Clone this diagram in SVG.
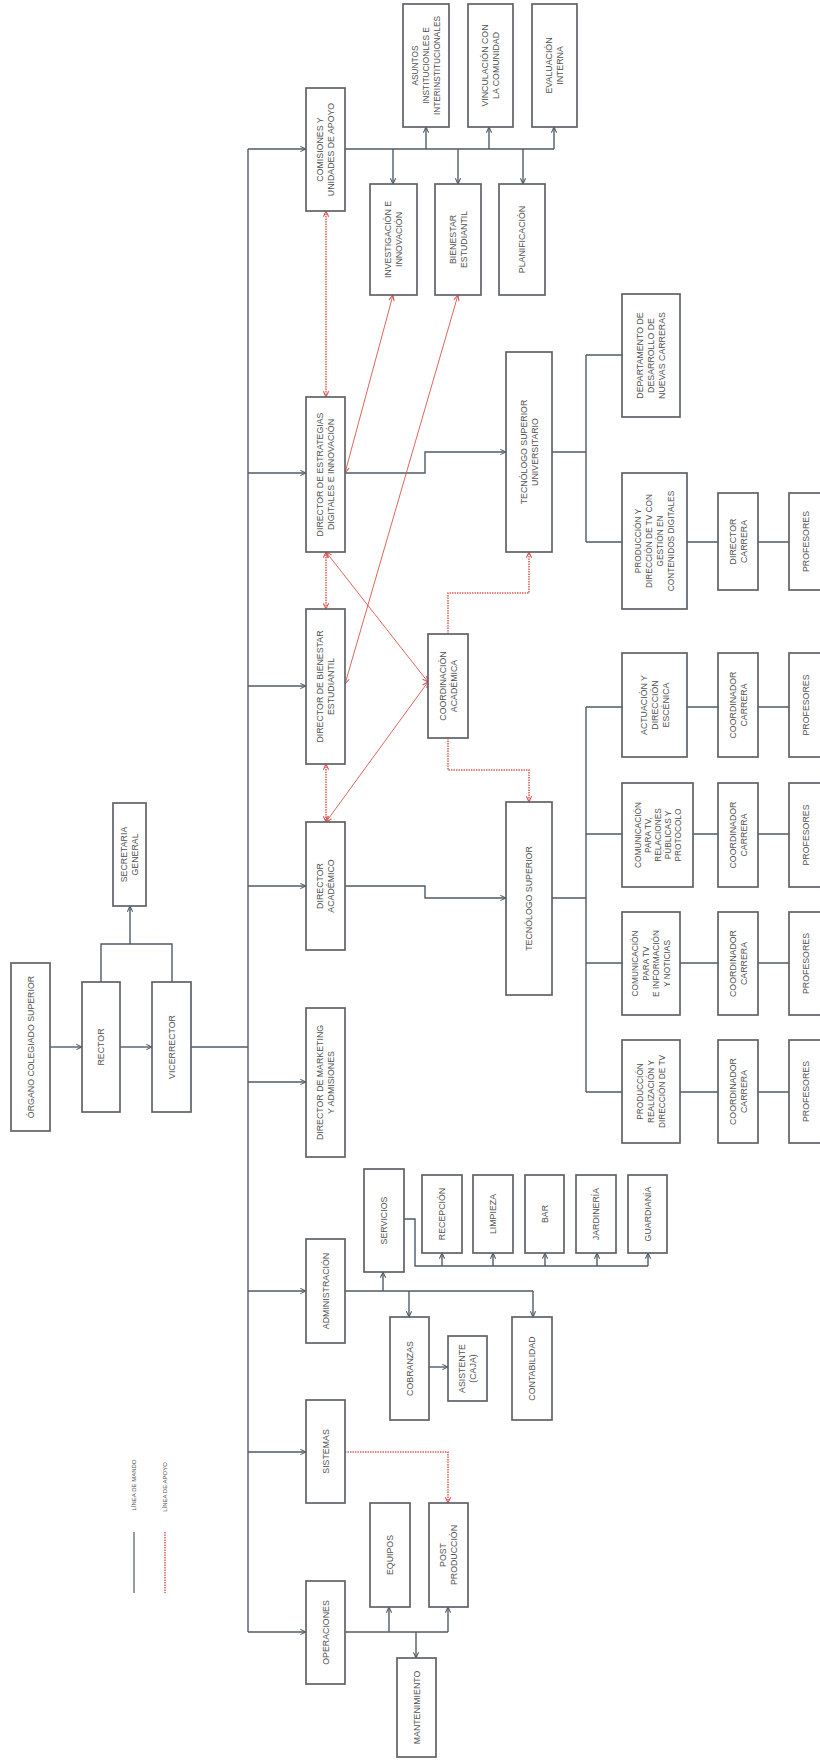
<svg xmlns="http://www.w3.org/2000/svg" width="820" height="1760" viewBox="0 0 820 1760">
<style>
.box{fill:#fff;stroke:#5f6368;stroke-width:1.7}
.t{font-family:"Liberation Sans",Arial,sans-serif;font-size:8.8px;fill:#505050;text-anchor:middle;dominant-baseline:central}
.s{font-size:8.3px}
.lg{font-size:6px}
.ln{fill:none;stroke:#4f5b66;stroke-width:1.4}
.red{fill:none;stroke:#d9534f;stroke-width:1.4;stroke-dasharray:1.4 1.1}
.rthin{fill:none;stroke:#d9534f;stroke-width:0.9}
</style>
<defs>
<marker id="a" viewBox="0 0 8 8" refX="7.5" refY="4" markerWidth="7" markerHeight="7" markerUnits="userSpaceOnUse" orient="auto-start-reverse"><path d="M1,1 L7.5,4 L1,7" fill="none" stroke="#4f5b66" stroke-width="1.2"/></marker>
<marker id="r" viewBox="0 0 8 8" refX="7.5" refY="4" markerWidth="7" markerHeight="7" markerUnits="userSpaceOnUse" orient="auto-start-reverse"><path d="M1,1 L7.5,4 L1,7" fill="none" stroke="#d9534f" stroke-width="1.2"/></marker>
</defs>
<rect width="820" height="1760" fill="#fff"/>

<g id="connectors">
<path class="ln" d="M50,1047 H82" marker-end="url(#a)"/>
<path class="ln" d="M120,1047 H152" marker-end="url(#a)"/>
<path class="ln" d="M191,1047 H248"/>
<path class="ln" d="M101,982 V944 H172 V982"/>
<path class="ln" d="M130,944 V906" marker-end="url(#a)"/>
<path class="ln" d="M248,149 V1632"/>
<path class="ln" d="M248,149 H306" marker-end="url(#a)"/>
<path class="ln" d="M248,473 H306" marker-end="url(#a)"/>
<path class="ln" d="M248,686 H306" marker-end="url(#a)"/>
<path class="ln" d="M248,886 H306" marker-end="url(#a)"/>
<path class="ln" d="M248,1082 H306" marker-end="url(#a)"/>
<path class="ln" d="M248,1291 H306" marker-end="url(#a)"/>
<path class="ln" d="M248,1452 H306" marker-end="url(#a)"/>
<path class="ln" d="M248,1632 H306" marker-end="url(#a)"/>
<path class="ln" d="M345,149 H554"/>
<path class="ln" d="M393,149 V184" marker-end="url(#a)"/>
<path class="ln" d="M458,149 V184" marker-end="url(#a)"/>
<path class="ln" d="M523,149 V184" marker-end="url(#a)"/>
<path class="ln" d="M426,149 V127" marker-end="url(#a)"/>
<path class="ln" d="M489,149 V127" marker-end="url(#a)"/>
<path class="ln" d="M554,149 V127" marker-end="url(#a)"/>
<path class="ln" d="M345,473 H425 V452 H506" marker-end="url(#a)"/>
<path class="ln" d="M552,452 H586 M586,355 V542 M586,355 H622 M586,542 H622"/>
<path class="ln" d="M687,542 H718 M758,542 H789"/>
<path class="ln" d="M345,886 H425 V898 H506" marker-end="url(#a)"/>
<path class="ln" d="M552,898 H586 M586,707 V1092"/>
<path class="ln" d="M586,707 H622 M687,707 H718 M758,707 H789"/>
<path class="ln" d="M586,834 H622 M693,834 H718 M758,834 H789"/>
<path class="ln" d="M586,963 H622 M680,963 H718 M758,963 H789"/>
<path class="ln" d="M586,1092 H622 M680,1092 H718 M758,1092 H789"/>
<path class="ln" d="M345,1291 H533"/>
<path class="ln" d="M383,1291 V1272" marker-end="url(#a)"/>
<path class="ln" d="M409,1291 V1317" marker-end="url(#a)"/>
<path class="ln" d="M533,1291 V1317" marker-end="url(#a)"/>
<path class="ln" d="M429,1367 H448" marker-end="url(#a)"/>
<path class="ln" d="M404,1219 H415 V1266 H648"/>
<path class="ln" d="M442,1266 V1253" marker-end="url(#a)"/>
<path class="ln" d="M493,1266 V1253" marker-end="url(#a)"/>
<path class="ln" d="M545,1266 V1253" marker-end="url(#a)"/>
<path class="ln" d="M597,1266 V1253" marker-end="url(#a)"/>
<path class="ln" d="M648,1266 V1253" marker-end="url(#a)"/>
<path class="ln" d="M345,1632 H448"/>
<path class="ln" d="M389,1632 V1607" marker-end="url(#a)"/>
<path class="ln" d="M416,1632 V1658" marker-end="url(#a)"/>
<path class="ln" d="M448,1632 V1607" marker-end="url(#a)"/>
<path class="red" d="M326,211 V397" marker-start="url(#r)" marker-end="url(#r)"/>
<path class="red" d="M326,552 V609" marker-start="url(#r)" marker-end="url(#r)"/>
<path class="red" d="M326,764 V822" marker-start="url(#r)" marker-end="url(#r)"/>
<path class="rthin" d="M345,473 L393,295" marker-start="url(#r)" marker-end="url(#r)"/>
<path class="rthin" d="M458,295 L345,684" marker-start="url(#r)" marker-end="url(#r)"/>
<path class="rthin" d="M326,552 L428,682" marker-start="url(#r)" marker-end="url(#r)"/>
<path class="rthin" d="M326,822 L428,682" marker-start="url(#r)" marker-end="url(#r)"/>
<path class="red" d="M448,634 V593 H529 V552" marker-end="url(#r)"/>
<path class="red" d="M448,738 V770 H529 V802" marker-end="url(#r)"/>
<path class="red" d="M345,1452 H448 V1503" marker-end="url(#r)"/>
</g>

<g id="n-organo"><rect class="box" x="11" y="963" width="39" height="168"/><text class="t" transform="translate(30.5 1047) rotate(-90)"><tspan x="0" y="0">ÓRGANO COLEGIADO SUPERIOR</tspan></text></g>
<g id="n-rector"><rect class="box" x="82" y="982" width="38" height="130"/><text class="t" transform="translate(101 1047) rotate(-90)"><tspan x="0" y="0">RECTOR</tspan></text></g>
<g id="n-vicerrector"><rect class="box" x="152" y="982" width="39" height="130"/><text class="t" transform="translate(171.5 1047) rotate(-90)"><tspan x="0" y="0">VICERRECTOR</tspan></text></g>
<g id="n-secretaria"><rect class="box" x="113" y="803" width="33" height="103"/><text class="t" transform="translate(129.5 854.5) rotate(-90)"><tspan x="0" y="-5.5">SECRETARIA</tspan><tspan x="0" y="5.5">GENERAL</tspan></text></g>

<g id="n-comisiones"><rect class="box" x="306" y="88" width="39" height="123"/><text class="t" transform="translate(325.5 149.5) rotate(-90)"><tspan x="0" y="-5.5">COMISIONES Y</tspan><tspan x="0" y="5.5">UNIDADES DE APOYO</tspan></text></g>
<g id="n-dir-estrategias"><rect class="box" x="306" y="397" width="39" height="155"/><text class="t" transform="translate(325.5 474.5) rotate(-90)"><tspan x="0" y="-5.5">DIRECTOR DE ESTRATEGIAS</tspan><tspan x="0" y="5.5">DIGITALES E INNOVACIÓN</tspan></text></g>
<g id="n-dir-bienestar"><rect class="box" x="306" y="609" width="39" height="155"/><text class="t" transform="translate(325.5 686.5) rotate(-90)"><tspan x="0" y="-5.5">DIRECTOR DE BIENESTAR</tspan><tspan x="0" y="5.5">ESTUDIANTIL</tspan></text></g>
<g id="n-dir-academico"><rect class="box" x="306" y="822" width="39" height="128"/><text class="t" transform="translate(325.5 886) rotate(-90)"><tspan x="0" y="-5.5">DIRECTOR</tspan><tspan x="0" y="5.5">ACADÉMICO</tspan></text></g>
<g id="n-dir-marketing"><rect class="box" x="306" y="1008" width="39" height="149"/><text class="t" transform="translate(325.5 1082.5) rotate(-90)"><tspan x="0" y="-5.5">DIRECTOR DE MARKETING</tspan><tspan x="0" y="5.5">Y ADMISIONES</tspan></text></g>
<g id="n-administracion"><rect class="box" x="306" y="1239" width="39" height="104"/><text class="t" transform="translate(325.5 1291) rotate(-90)"><tspan x="0" y="0">ADMINISTRACIÓN</tspan></text></g>
<g id="n-sistemas"><rect class="box" x="306" y="1400" width="39" height="103"/><text class="t" transform="translate(325.5 1451.5) rotate(-90)"><tspan x="0" y="0">SISTEMAS</tspan></text></g>
<g id="n-operaciones"><rect class="box" x="306" y="1581" width="39" height="103"/><text class="t" transform="translate(325.5 1632.5) rotate(-90)"><tspan x="0" y="0">OPERACIONES</tspan></text></g>

<g id="n-investigacion"><rect class="box" x="370" y="184" width="47" height="111"/><text class="t" transform="translate(393.5 239.5) rotate(-90)"><tspan x="0" y="-5.5">INVESTIGACIÓN E</tspan><tspan x="0" y="5.5">INNOVACIÓN</tspan></text></g>
<g id="n-bienestar"><rect class="box" x="435" y="184" width="46" height="111"/><text class="t" transform="translate(458 239.5) rotate(-90)"><tspan x="0" y="-5.5">BIENESTAR</tspan><tspan x="0" y="5.5">ESTUDIANTIL</tspan></text></g>
<g id="n-planificacion"><rect class="box" x="499" y="184" width="46" height="111"/><text class="t" transform="translate(522 239.5) rotate(-90)"><tspan x="0" y="0">PLANIFICACIÓN</tspan></text></g>
<g id="n-asuntos"><rect class="box" x="403" y="4" width="46" height="123"/><text class="t s" transform="translate(426 65.5) rotate(-90)"><tspan x="0" y="-11">ASUNTOS</tspan><tspan x="0" y="0">INSTITUCIONLES E</tspan><tspan x="0" y="11">INTERINSTITUCIONALES</tspan></text></g>
<g id="n-vinculacion"><rect class="box" x="468" y="4" width="45" height="123"/><text class="t" transform="translate(490.5 65.5) rotate(-90)"><tspan x="0" y="-5.5">VINCULACIÓN CON</tspan><tspan x="0" y="5.5">LA COMUNIDAD</tspan></text></g>
<g id="n-evaluacion"><rect class="box" x="532" y="4" width="45" height="123"/><text class="t" transform="translate(554.5 65.5) rotate(-90)"><tspan x="0" y="-5.5">EVALUACIÓN</tspan><tspan x="0" y="5.5">INTERNA</tspan></text></g>

<g id="n-tsu"><rect class="box" x="506" y="352" width="46" height="200"/><text class="t" transform="translate(529 452) rotate(-90)"><tspan x="0" y="-5.5">TECNÓLOGO SUPERIOR</tspan><tspan x="0" y="5.5">UNIVERSITARIO</tspan></text></g>
<g id="n-departamento"><rect class="box" x="622" y="294" width="58" height="123"/><text class="t" transform="translate(651 355.5) rotate(-90)"><tspan x="0" y="-11">DEPARTAMENTO DE</tspan><tspan x="0" y="0">DESARROLLO DE</tspan><tspan x="0" y="11">NUEVAS CARRERAS</tspan></text></g>
<g id="n-prod-dir-tv"><rect class="box" x="622" y="473" width="65" height="136"/><text class="t s" transform="translate(654.5 541) rotate(-90)"><tspan x="0" y="-16.5">PRODUCCIÓN Y</tspan><tspan x="0" y="-5.5">DIRECCIÓN DE TV CON</tspan><tspan x="0" y="5.5">GESTIÓN EN</tspan><tspan x="0" y="16.5">CONTENIDOS DIGITALES</tspan></text></g>
<g id="n-director-carrera"><rect class="box" x="718" y="493" width="40" height="97"/><text class="t" transform="translate(738 541.5) rotate(-90)"><tspan x="0" y="-5.5">DIRECTOR</tspan><tspan x="0" y="5.5">CARRERA</tspan></text></g>
<g id="n-profesores-5"><rect class="box" x="789" y="493" width="45" height="97"/><text class="t" transform="translate(806 541.5) rotate(-90)"><tspan x="0" y="0">PROFESORES</tspan></text></g>

<g id="n-coord-academica"><rect class="box" x="428" y="634" width="40" height="104"/><text class="t" transform="translate(448 686) rotate(-90)"><tspan x="0" y="-5.5">COORDINACIÓN</tspan><tspan x="0" y="5.5">ACADÉMICA</tspan></text></g>
<g id="n-ts"><rect class="box" x="506" y="802" width="46" height="193"/><text class="t" transform="translate(529 898.5) rotate(-90)"><tspan x="0" y="0">TECNÓLOGO SUPERIOR</tspan></text></g>

<g id="n-actuacion"><rect class="box" x="622" y="653" width="65" height="104"/><text class="t" transform="translate(654.5 705) rotate(-90)"><tspan x="0" y="-11">ACTUACIÓN Y</tspan><tspan x="0" y="0">DIRECCIÓN</tspan><tspan x="0" y="11">ESCÉNICA</tspan></text></g>
<g id="n-coord-1"><rect class="box" x="718" y="653" width="40" height="104"/><text class="t" transform="translate(738 705) rotate(-90)"><tspan x="0" y="-5.5">COORDINADOR</tspan><tspan x="0" y="5.5">CARRERA</tspan></text></g>
<g id="n-profesores-1"><rect class="box" x="789" y="653" width="45" height="104"/><text class="t" transform="translate(806 705) rotate(-90)"><tspan x="0" y="0">PROFESORES</tspan></text></g>

<g id="n-com-relaciones"><rect class="box" x="622" y="783" width="71" height="104"/><text class="t s" transform="translate(657.5 835) rotate(-90)"><tspan x="0" y="-20">COMUNICACIÓN</tspan><tspan x="0" y="-10">PARA TV,</tspan><tspan x="0" y="0">RELACIONES</tspan><tspan x="0" y="10">PÚBLICAS Y</tspan><tspan x="0" y="20">PROTOCOLO</tspan></text></g>
<g id="n-coord-2"><rect class="box" x="718" y="783" width="40" height="104"/><text class="t" transform="translate(738 835) rotate(-90)"><tspan x="0" y="-5.5">COORDINADOR</tspan><tspan x="0" y="5.5">CARRERA</tspan></text></g>
<g id="n-profesores-2"><rect class="box" x="789" y="783" width="45" height="104"/><text class="t" transform="translate(806 835) rotate(-90)"><tspan x="0" y="0">PROFESORES</tspan></text></g>

<g id="n-com-informacion"><rect class="box" x="622" y="912" width="58" height="103"/><text class="t s" transform="translate(651 963.5) rotate(-90)"><tspan x="0" y="-15.75">COMUNICACIÓN</tspan><tspan x="0" y="-5.25">PARA TV</tspan><tspan x="0" y="5.25">E INFORMACIÓN</tspan><tspan x="0" y="15.75">Y NOTICIAS</tspan></text></g>
<g id="n-coord-3"><rect class="box" x="718" y="912" width="40" height="103"/><text class="t" transform="translate(738 963.5) rotate(-90)"><tspan x="0" y="-5.5">COORDINADOR</tspan><tspan x="0" y="5.5">CARRERA</tspan></text></g>
<g id="n-profesores-3"><rect class="box" x="789" y="912" width="45" height="103"/><text class="t" transform="translate(806 963.5) rotate(-90)"><tspan x="0" y="0">PROFESORES</tspan></text></g>

<g id="n-prod-realizacion"><rect class="box" x="622" y="1040" width="58" height="103"/><text class="t s" transform="translate(651 1091.5) rotate(-90)"><tspan x="0" y="-11">PRODUCCIÓN</tspan><tspan x="0" y="0">REALIZACIÓN Y</tspan><tspan x="0" y="11">DIRECCIÓN DE TV</tspan></text></g>
<g id="n-coord-4"><rect class="box" x="718" y="1040" width="40" height="103"/><text class="t" transform="translate(738 1091.5) rotate(-90)"><tspan x="0" y="-5.5">COORDINADOR</tspan><tspan x="0" y="5.5">CARRERA</tspan></text></g>
<g id="n-profesores-4"><rect class="box" x="789" y="1040" width="45" height="103"/><text class="t" transform="translate(806 1091.5) rotate(-90)"><tspan x="0" y="0">PROFESORES</tspan></text></g>

<g id="n-servicios"><rect class="box" x="364" y="1169" width="40" height="103"/><text class="t" transform="translate(384 1220.5) rotate(-90)"><tspan x="0" y="0">SERVICIOS</tspan></text></g>
<g id="n-cobranzas"><rect class="box" x="390" y="1317" width="39" height="103"/><text class="t" transform="translate(409.5 1368.5) rotate(-90)"><tspan x="0" y="0">COBRANZAS</tspan></text></g>
<g id="n-asistente"><rect class="box" x="448" y="1336" width="39" height="65"/><text class="t" transform="translate(467.5 1368.5) rotate(-90)"><tspan x="0" y="-5.5">ASISTENTE</tspan><tspan x="0" y="5.5">(CAJA)</tspan></text></g>
<g id="n-contabilidad"><rect class="box" x="512" y="1317" width="40" height="103"/><text class="t" transform="translate(532 1368.5) rotate(-90)"><tspan x="0" y="0">CONTABILIDAD</tspan></text></g>
<g id="n-recepcion"><rect class="box" x="422" y="1175" width="40" height="78"/><text class="t" transform="translate(442 1214) rotate(-90)"><tspan x="0" y="0">RECEPCIÓN</tspan></text></g>
<g id="n-limpieza"><rect class="box" x="473" y="1175" width="40" height="78"/><text class="t" transform="translate(493 1214) rotate(-90)"><tspan x="0" y="0">LIMPIEZA</tspan></text></g>
<g id="n-bar"><rect class="box" x="525" y="1175" width="39" height="78"/><text class="t" transform="translate(544.5 1214) rotate(-90)"><tspan x="0" y="0">BAR</tspan></text></g>
<g id="n-jardineria"><rect class="box" x="576" y="1175" width="40" height="78"/><text class="t" transform="translate(596 1214) rotate(-90)"><tspan x="0" y="0">JARDINERÍA</tspan></text></g>
<g id="n-guardiania"><rect class="box" x="628" y="1175" width="39" height="78"/><text class="t" transform="translate(647.5 1214) rotate(-90)"><tspan x="0" y="0">GUARDIANÍA</tspan></text></g>

<g id="n-equipos"><rect class="box" x="370" y="1503" width="40" height="104"/><text class="t" transform="translate(390 1555) rotate(-90)"><tspan x="0" y="0">EQUIPOS</tspan></text></g>
<g id="n-post"><rect class="box" x="429" y="1503" width="39" height="104"/><text class="t" transform="translate(448.5 1555) rotate(-90)"><tspan x="0" y="-5.5">POST</tspan><tspan x="0" y="5.5">PRODUCCIÓN</tspan></text></g>
<g id="n-mantenimiento"><rect class="box" x="397" y="1658" width="39" height="99"/><text class="t" transform="translate(416.5 1707.5) rotate(-90)"><tspan x="0" y="0">MANTENIMIENTO</tspan></text></g>

<g id="legend">
<path d="M134,1532 V1593" fill="none" stroke="#4f5b66" stroke-width="1.2"/>
<path d="M165,1532 V1593" class="red"/>
<text class="t lg" transform="translate(134 1485) rotate(-90)"><tspan x="0" y="0">LÍNEA DE MANDO</tspan></text>
<text class="t lg" transform="translate(165 1487) rotate(-90)"><tspan x="0" y="0">LÍNEA DE APOYO</tspan></text>
</g>
</svg>
